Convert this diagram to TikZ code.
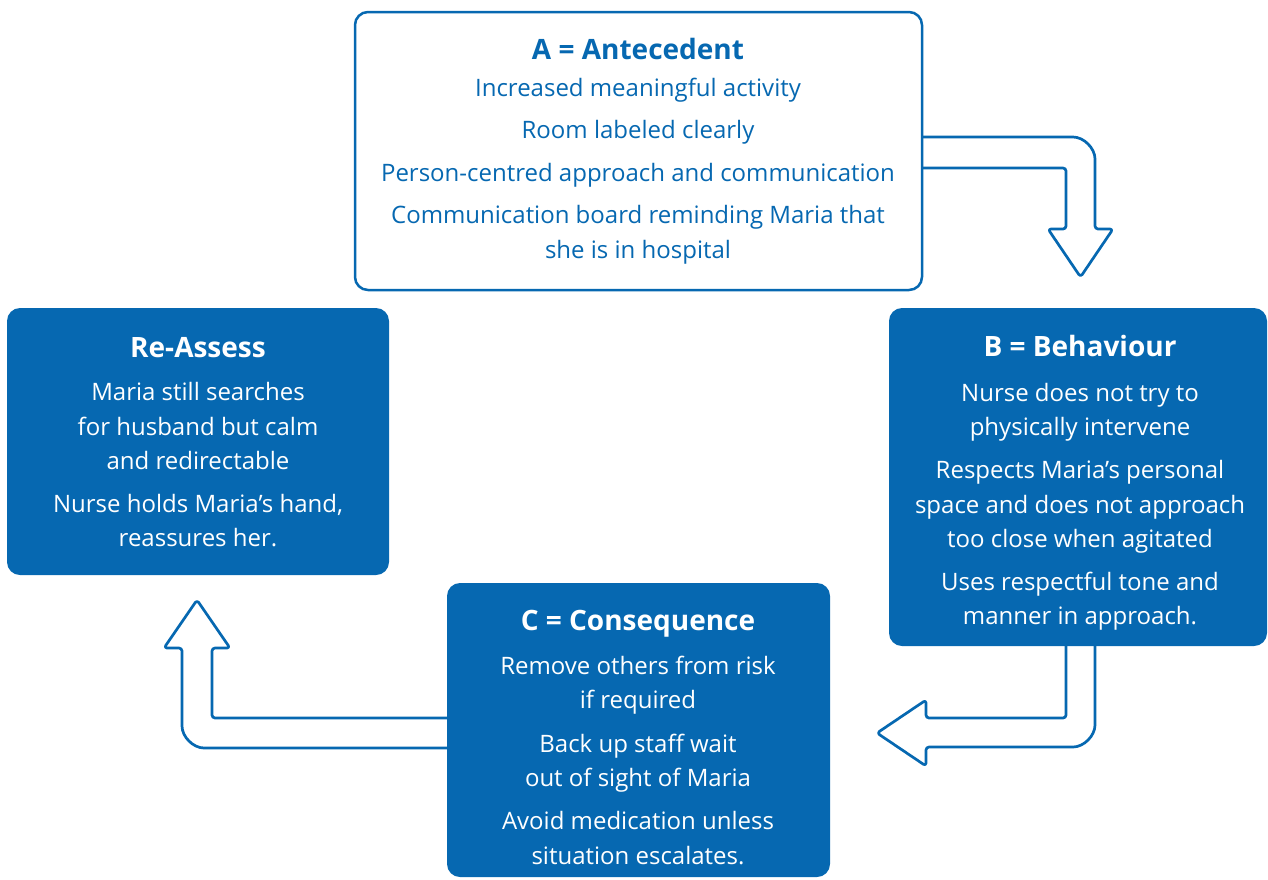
\documentclass[tikz,border=0pt]{standalone}
\usepackage{fontspec}
\setmainfont{Open Sans}
\usetikzlibrary{calc}
\definecolor{nhblue}{HTML}{0668B1}
\begin{document}
\begin{tikzpicture}[x=1pt,y=-1pt,
  outlinebox/.style={draw=nhblue, line width=2.5pt, fill=white, rounded corners=13pt, inner sep=0pt},
  fillbox/.style={fill=nhblue, rounded corners=13pt, inner sep=0pt},
  hollowarrow/.style={draw=nhblue, line width=2.7pt, fill=white, line join=round, rounded corners=3pt},
  titletext/.style={font=\fontsize{28}{32}\selectfont\bfseries, anchor=base, inner sep=0pt},
  bodytext/.style={font=\fontsize{24}{28}\selectfont, anchor=base, inner sep=0pt},
]
\useasboundingbox (0,0) rectangle (1268,879);

\path (638.5,151) coordinate (Ac);
\path (198,441.5) coordinate (Rc);
\path (1078,477) coordinate (Bc);
\path (638.5,730) coordinate (Cc);

% hollow arrows
\draw[hollowarrow] (922,137) -- (1070,137) .. controls (1083.8,137) and (1095,148.2) .. (1095,162)
  -- (1095,229) -- (1113,229) -- (1080.5,277) -- (1048,229) -- (1066,229) -- (1066,168) -- (922,168);
\draw[hollowarrow] (1095,646) -- (1095,722) .. controls (1095,735.8) and (1083.8,747) .. (1070,747)
  -- (926,747) -- (926,766) -- (877,733) -- (926,700) -- (926,718) -- (1066,718) -- (1066,646);
\draw[hollowarrow] (447,718) -- (212,718) -- (212,648) -- (230,648) -- (197,600) -- (164,648) -- (182,648)
  -- (182,723) .. controls (182,736.8) and (193.2,748) .. (207,748) -- (447,748);

% boxes
\node[outlinebox, minimum width=567pt, minimum height=278pt] (A) at (Ac) {};
\node[fillbox, minimum width=382pt, minimum height=267pt] (R) at (Rc) {};
\node[fillbox, minimum width=378pt, minimum height=338pt] (B) at (Bc) {};
\node[fillbox, minimum width=383pt, minimum height=294pt] (C) at (Cc) {};

% A texts
\node[titletext, text=nhblue] (at) at (638,59) {A = Antecedent};
\foreach \y/\t [count=\i] in {96/{Increased meaningful activity},138/{Room labeled clearly},181/{Person-centred approach and communication},223/{Communication board reminding Maria that},258/{she is in hospital}}
  \node[bodytext, text=nhblue] (a\i) at (638,\y) {\t};

% Re-Assess texts
\node[titletext, text=white] (rt) at (198,357) {Re-Assess};
\foreach \y/\t [count=\i] in {400/{Maria still searches},435/{for husband but calm},469/{and redirectable},512/{Nurse holds Maria’s hand,},546/{reassures her.}}
  \node[bodytext, text=white] (r\i) at (198,\y) {\t};

% B texts
\node[titletext, text=white] (bt) at (1080,356) {B = Behaviour};
\foreach \y/\t [count=\i] in {401/{Nurse does not try to},435/{physically intervene},478/{Respects Maria’s personal},513/{space and does not approach},547/{too close when agitated},590/{Uses respectful tone and},624/{manner in approach.}}
  \node[bodytext, text=white] (b\i) at (1080,\y) {\t};

% C texts
\node[titletext, text=white] (ct) at (638,630) {C = Consequence};
\foreach \y/\t [count=\i] in {674/{Remove others from risk},708/{if required},752/{Back up staff wait},786/{out of sight of Maria},829/{Avoid medication unless},864/{situation escalates.}}
  \node[bodytext, text=white] (c\i) at (638,\y) {\t};
\end{tikzpicture}
\end{document}
